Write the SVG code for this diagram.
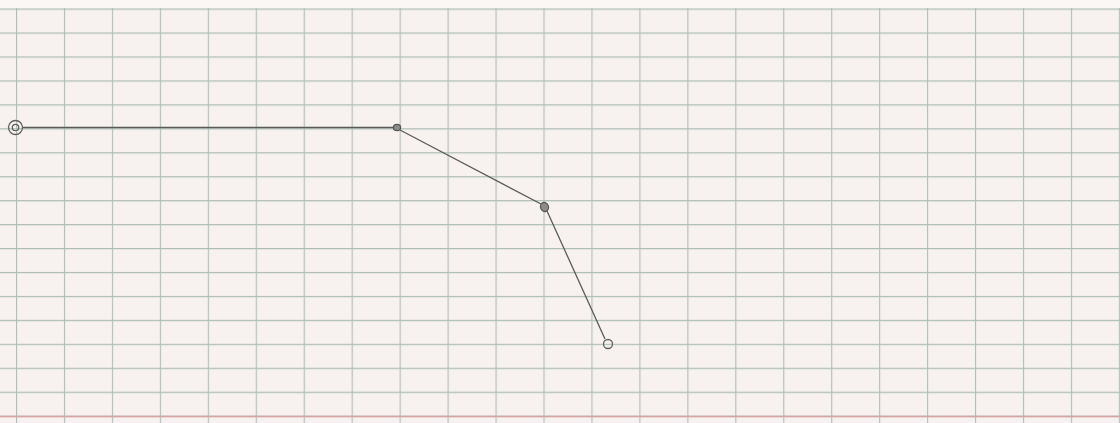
<svg xmlns="http://www.w3.org/2000/svg" width="1120" height="423" viewBox="0 0 1120 423">
<defs>
<style>
.bg{fill:#f7f2ef}
.g{stroke:#adbdb8;stroke-width:1.1;fill:none}
.red{stroke:#d9a3a3;stroke-width:1.4;fill:none}
.edge{stroke:#5a5a5a;stroke-width:1.3;fill:none}
.n{fill:#8c8c8c;stroke:#555;stroke-width:1.2}
.o{fill:none;stroke:#606060;stroke-width:1.3}
</style>
<pattern id="vgrid" x="16" y="0" width="47.95" height="423" patternUnits="userSpaceOnUse">
<line x1="0.6" y1="0" x2="0.6" y2="423" class="g"/>
</pattern>
<pattern id="hgrid" x="0" y="8.5" width="1120" height="23.95" patternUnits="userSpaceOnUse">
<line x1="0" y1="0.6" x2="1120" y2="0.6" class="g"/>
</pattern>
</defs>
<rect class="bg" x="0" y="0" width="1120" height="423"/>
<rect x="0" y="0" width="1120" height="8" fill="#faf7f5"/>
<rect x="0" y="8" width="1120" height="415" fill="url(#hgrid)"/>
<rect x="0" y="8" width="1120" height="415" fill="url(#vgrid)"/>
<line x1="0" y1="416.5" x2="1120" y2="416.5" class="red"/>
<g id="connectors">
<line class="edge" x1="23" y1="127.5" x2="394" y2="127.5"/>
<line class="edge" x1="400" y1="130" x2="541" y2="204"/>
<line class="edge" x1="547" y1="211" x2="605" y2="339"/>
</g>
<g id="start">
<circle class="o" cx="15.5" cy="127.5" r="7"/>
<circle class="o" cx="15.5" cy="127.5" r="3.2"/>
</g>
<g id="node1">
<ellipse class="n" cx="397" cy="127.5" rx="3.6" ry="3.2"/>
</g>
<g id="node2">
<ellipse class="n" cx="544.5" cy="207" rx="4" ry="4.6" transform="rotate(-20 544.5 207)"/>
</g>
<g id="end">
<circle class="o" cx="608" cy="344" r="4.5"/>
</g>
</svg>
